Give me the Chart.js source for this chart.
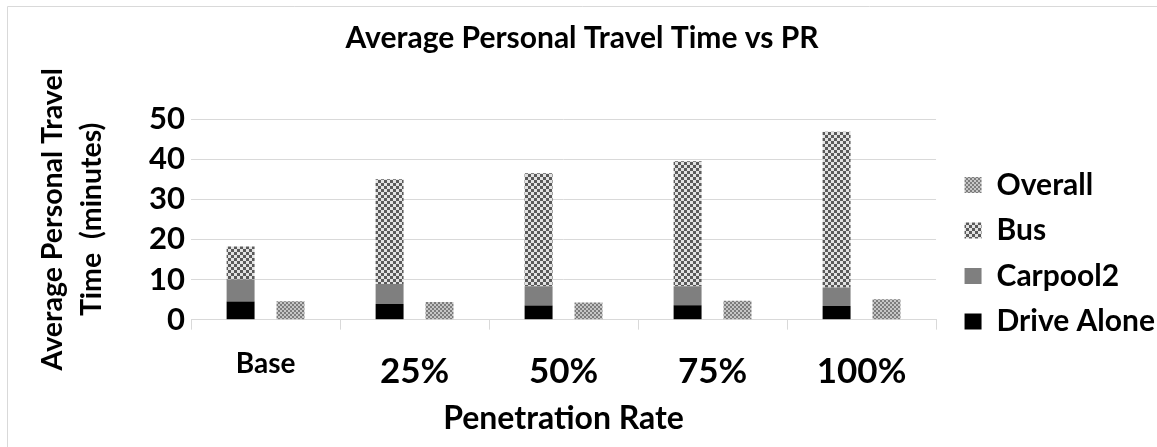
<!DOCTYPE html>
<html>
<head>
<meta charset="utf-8">
<script src="https://cdn.jsdelivr.net/npm/chart.js@4.4.1/dist/chart.umd.min.js"></script>
<style>
  body { margin: 0; background: #fff; }
  canvas { display: block; }
</style>
</head>
<body>
<canvas id="grafico" width="1157" height="447"></canvas>
<script>
// travel time (minutes) by penetration rate
var categorias = ['Base', '25%', '50%', '75%', '100%'];
var driveAlone = [4.5, 3.9, 3.5, 3.6, 3.4];
var carpool2 = [5.5, 5.0, 4.8, 4.7, 4.6];
var bus = [8.2, 26.1, 28.2, 31.2, 38.8];
var overall = [4.6, 4.4, 4.3, 4.7, 5.1];
var yTicks = [0, 10, 20, 30, 40, 50];

var FUENTE = 'Lato, "Open Sans", sans-serif';

// checkerboard fill used for the patterned series
function ajedrez(celda, oscuro, claro) {
    var c = document.createElement('canvas');
    c.width = c.height = celda * 2;
    var g = c.getContext('2d');
    g.fillStyle = claro;
    g.fillRect(0, 0, c.width, c.height);
    g.fillStyle = oscuro;
    g.fillRect(0, 0, celda, celda);
    g.fillRect(celda, celda, celda, celda);
    return g.createPattern(c, 'repeat');
}

var patronBus = ajedrez(3, '#5a5a5a', '#e2e2e2');
var patronOverall = ajedrez(2, '#7c7c7c', '#c6c6c6');

// thin frame around the figure
var marco = {
    id: 'marco',
    beforeDraw: function (chart) {
        var ctx = chart.ctx;
        ctx.save();
        ctx.strokeStyle = '#d9d9d9';
        ctx.lineWidth = 1;
        ctx.beginPath();
        ctx.moveTo(7.5, 447);
        ctx.lineTo(7.5, 6.5);
        ctx.lineTo(1157, 6.5);
        ctx.stroke();
        ctx.restore();
    }
};

// push the legend a bit away from the plot area
var separarLeyenda = {
    id: 'separarLeyenda',
    afterLayout: function (chart) {
        chart.legend.left += 13;
        chart.legend.right += 13;
    }
};

var ctx = document.getElementById('grafico').getContext('2d');
new Chart(ctx, {
    type: 'bar',
    data: {
        labels: categorias,
        datasets: [
            { label: 'Drive Alone', data: driveAlone, backgroundColor: '#000000', stack: 'modo' },
            { label: 'Carpool2', data: carpool2, backgroundColor: '#7f7f7f', stack: 'modo' },
            { label: 'Bus', data: bus, backgroundColor: patronBus, stack: 'modo' },
            { label: 'Overall', data: overall, backgroundColor: patronOverall, stack: 'total' }
        ]
    },
    plugins: [marco, separarLeyenda],
    options: {
        responsive: false,
        animation: false,
        categoryPercentage: 0.67,
        barPercentage: 0.56,
        layout: { padding: { left: 12, right: 5, top: 0, bottom: 5 } },
        plugins: {
            title: {
                display: true,
                text: 'Average Personal Travel Time vs PR',
                color: '#000',
                font: { family: FUENTE, size: 30, weight: 'bold' },
                padding: { top: 20, bottom: 63 }
            },
            legend: {
                position: 'right',
                align: 'start',
                reverse: true,
                title: { display: true, text: ' ', font: { size: 10 }, padding: { top: 142.5, bottom: 0 } },
                labels: {
                    boxWidth: 17,
                    boxHeight: 16,
                    padding: 15.5,
                    color: '#000',
                    font: { family: FUENTE, size: 30, weight: 'bold' }
                }
            },
            tooltip: { enabled: false }
        },
        scales: {
            x: {
                stacked: true,
                grid: { drawOnChartArea: false, tickLength: 10, color: '#d9d9d9', offset: true },
                border: { color: '#d9d9d9' },
                ticks: {
                    color: '#000',
                    padding: 32,
                    font: function (c) {
                        return c.index === 0
                            ? { family: FUENTE, size: 28, weight: 'bold', lineHeight: 0.15 }
                            : { family: FUENTE, size: 35, weight: 'bold', lineHeight: 0.57 };
                    }
                },
                title: {
                    display: true,
                    text: 'Penetration Rate',
                    color: '#000',
                    font: { family: FUENTE, size: 32, weight: 'bold' },
                    padding: { top: -14, bottom: 4 }
                }
            },
            y: {
                stacked: true,
                min: yTicks[0],
                max: yTicks[yTicks.length - 1],
                grid: { color: '#d9d9d9', drawTicks: false },
                border: { display: false },
                ticks: {
                    stepSize: 10,
                    autoSkip: false,
                    padding: 6,
                    color: '#000',
                    font: { family: FUENTE, size: 31, weight: 'bold' }
                },
                title: {
                    display: true,
                    text: ['Average Personal Travel', 'Time  (minutes)'],
                    color: '#000',
                    font: { family: FUENTE, size: 28.5, weight: 'bold', lineHeight: 1.37 },
                    padding: { top: 21.5, bottom: 31.5 }
                }
            }
        }
    }
});
</script>
</body>
</html>
